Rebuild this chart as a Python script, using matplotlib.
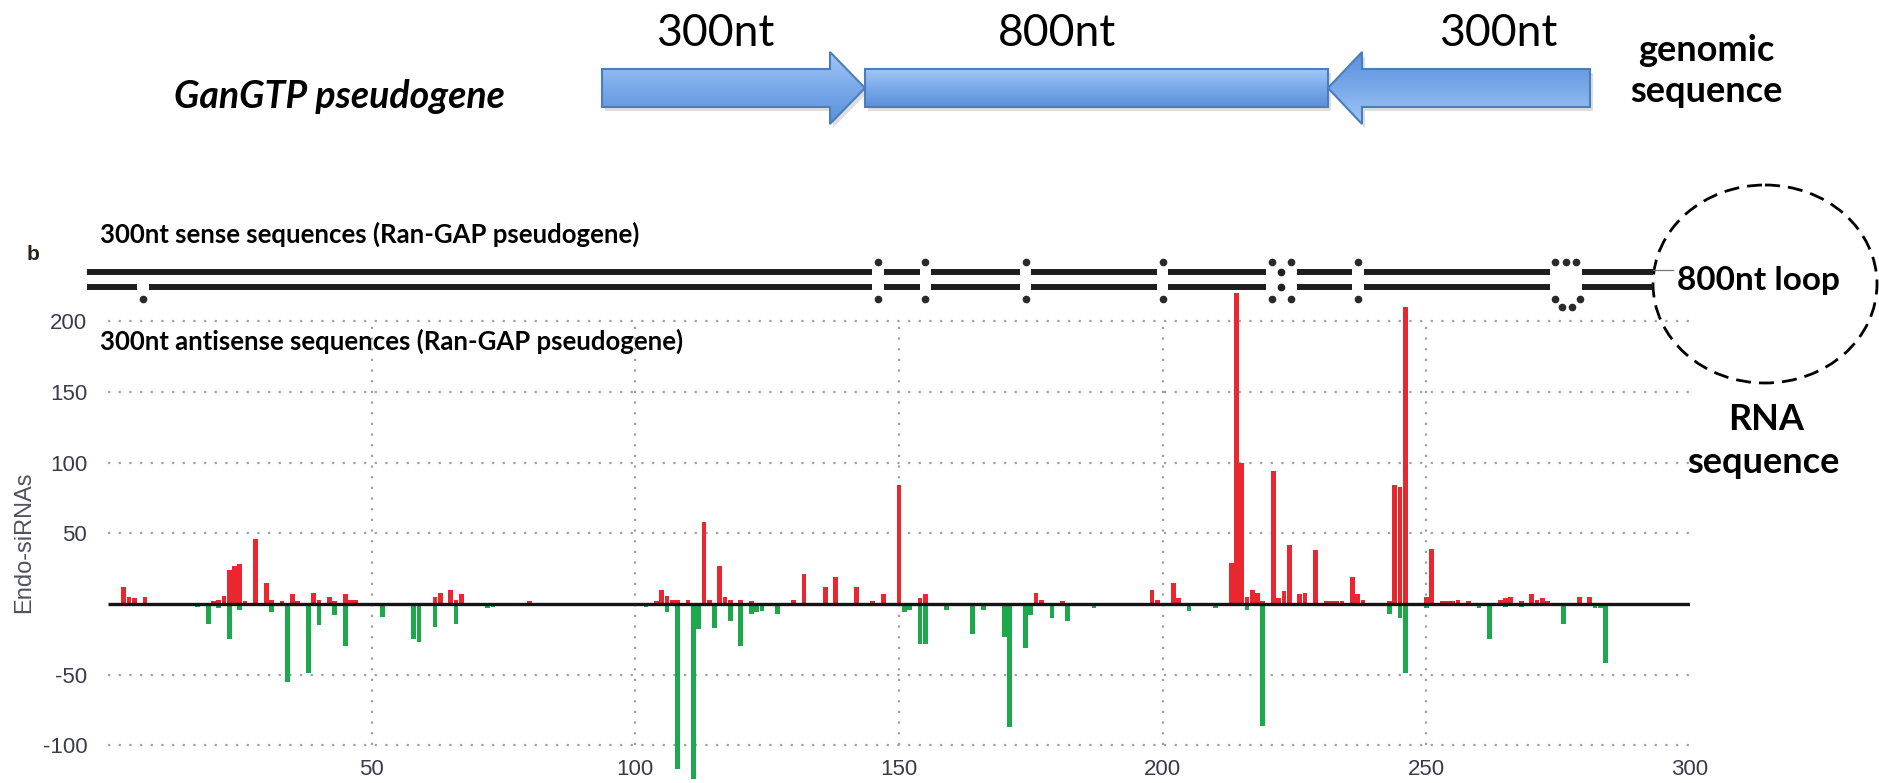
import numpy as np
import matplotlib.pyplot as plt
from matplotlib.patches import Polygon, Ellipse
from matplotlib.colors import LinearSegmentedColormap

# leituras de endo-siRNA por posição do grampo (fita senso em vermelho)
sense_pos = [3, 4, 5, 7, 20, 21, 22, 23, 24, 25, 26, 28, 30, 31, 33, 35, 36, 39, 40, 42, 43, 45, 46, 47,
             62, 63, 65, 66, 67, 80, 104, 105, 106, 107, 108, 110, 113, 114, 116, 117, 118, 120, 122,
             130, 132, 136, 138, 142, 145, 147, 150, 154, 155, 176, 177, 181, 198, 199, 202, 203,
             213, 214, 215, 216, 217, 218, 219, 221, 222, 223, 224, 226, 227, 229, 231, 232, 233, 234,
             236, 237, 238, 243, 244, 245, 246, 250, 251, 253, 254, 255, 256, 258, 264, 265, 266, 268,
             270, 271, 272, 273, 279, 281]
sense_val = [12, 5, 4, 5, 2, 3, 6, 24, 27, 28, 2, 46, 15, 3, 2, 7, 2, 8, 3, 5, 2, 7, 3, 3,
             5, 8, 10, 3, 7, 2, 2, 10, 6, 3, 3, 3, 58, 3, 27, 5, 3, 3, 2,
             3, 21, 12, 19, 12, 2, 7, 84, 4, 7, 8, 3, 2, 10, 3, 15, 4,
             29, 220, 100, 5, 10, 8, 2, 94, 4, 9, 42, 7, 8, 38, 2, 2, 2, 2,
             19, 7, 3, 2, 84, 83, 210, 5, 39, 2, 2, 2, 3, 2, 3, 4, 5, 2,
             7, 3, 4, 2, 5, 5]

# fita antissenso (verde, valores negativos)
anti_pos = [2, 17, 19, 21, 23, 25, 31, 34, 38, 40, 43, 45, 52, 58, 59, 62, 66, 72, 73,
            102, 106, 108, 111, 112, 115, 118, 120, 122, 123, 124, 127,
            151, 152, 154, 155, 159, 164, 166, 170, 171, 174, 175, 179, 182, 187,
            205, 210, 216, 219, 243, 245, 246, 250, 260, 262, 265, 268, 276, 282, 283, 284]
anti_val = [-1, -2, -14, -3, -25, -4, -6, -55, -49, -15, -8, -30, -9, -25, -27, -16, -14, -3, -2,
            -2, -6, -117, -124, -18, -17, -12, -30, -7, -6, -5, -7,
            -6, -4, -28, -28, -4, -21, -4, -23, -87, -31, -8, -10, -12, -3,
            -5, -3, -4, -86, -7, -10, -49, -3, -3, -25, -2, -2, -14, -3, -3, -42]

xticks = [50, 100, 150, 200, 250, 300]
yticks = [-100, -50, 50, 100, 150, 200]

# estrutura do dsRNA: pareamentos falhos e alças
mismatch_pos = [146, 155, 174, 200, 220.7, 224.3, 237]
bulge_bottom = [6.6]
loop_range = (273.5, 279.5)
strand_start, strand_end = -4, 293

W, H = 1879, 783
fig = plt.figure(figsize=(W / 100, H / 100), dpi=100)

# camada de desenho em pixels para o esquema do gene
ov = fig.add_axes([0, 0, 1, 1])
ov.axis('off')

azul = LinearSegmentedColormap.from_list('azul', ['#a3c7f7', '#7aa9ea', '#5a8fd9'])
grad = np.linspace(0, 1, 256).reshape(-1, 1)


def seta(pts, inverter=False):
    xs, ys = zip(*pts)
    sombra = Polygon([(x + 3, y + 4) for x, y in pts], closed=True, facecolor='#7f7f7f',
                     edgecolor='none', alpha=0.25, zorder=1)
    ov.add_patch(sombra)
    poly = Polygon(pts, closed=True, facecolor='none', edgecolor='#4a7ebb', lw=1.5, zorder=3)
    ov.add_patch(poly)
    im = ov.imshow(grad[::-1] if inverter else grad, cmap=azul, aspect='auto', zorder=2,
                   extent=(min(xs), max(xs), max(ys), min(ys)))
    im.set_clip_path(poly)


seta([(602, 69), (830, 69), (830, 52), (865, 88), (830, 124), (830, 107), (602, 107)])
seta([(865, 69), (1328, 69), (1328, 107), (865, 107)])
seta([(1590, 69), (1362, 69), (1362, 52), (1328, 88), (1362, 124), (1362, 107), (1590, 107)], inverter=True)

fonte = ['Lato', 'DejaVu Sans']
ov.text(715, 46, '300nt', fontsize=32, ha='center', va='baseline', family=fonte)
ov.text(1057, 46, '800nt', fontsize=32, ha='center', va='baseline', family=fonte)
ov.text(1498, 46, '300nt', fontsize=32, ha='center', va='baseline', family=fonte)
ov.text(1706, 61, 'genomic', fontsize=26, weight='bold', ha='center', va='baseline', family=fonte)
ov.text(1706, 102, 'sequence', fontsize=26, weight='bold', ha='center', va='baseline', family=fonte)
ov.text(339, 108, 'GanGTP pseudogene', fontsize=27, weight='bold', style='italic',
        ha='center', va='baseline', family=fonte)

ov.text(33, 255, 'b', fontsize=15, weight='bold', color='#2b2218', ha='center', va='center',
        family='Liberation Sans')
ov.text(100, 243, '300nt sense sequences (Ran-GAP pseudogene)', fontsize=18.5, weight='bold',
        ha='left', va='baseline', family=fonte)
ov.text(100, 350, '300nt antisense sequences (Ran-GAP pseudogene)', fontsize=18.5, weight='bold',
        ha='left', va='baseline', family=fonte, zorder=5)

ov.add_patch(Ellipse((1765, 284), 224, 198, fill=False, edgecolor='black', lw=2,
                     linestyle=(0, (5.4, 2.9))))
ov.text(1758, 290, '800nt loop', fontsize=24, weight='bold', ha='center', va='baseline', family=fonte)
ov.text(1766, 430, 'RNA', fontsize=26, weight='bold', ha='center', va='baseline', family=fonte)
ov.text(1763, 473, 'sequence', fontsize=26, weight='bold', ha='center', va='baseline', family=fonte)
ov.set_xlim(0, W)
ov.set_ylim(H, 0)

# gráfico de barras
ax = fig.add_axes([108 / W, (H - 780.8) / H, 1582 / W, 523.3 / H])
ax.patch.set_alpha(0)
ax.set_xlim(0, 300)
ax.set_ylim(-125, 245)
for s in ax.spines.values():
    s.set_visible(False)

grid_kw = dict(colors='#a0a0a0', linestyles=(0, (1, 3.8)), lw=1.6, zorder=1)
ax.hlines(yticks, 0, 300, **grid_kw)
ax.vlines(xticks[:-1], -100, 200, **grid_kw)

ax.bar(sense_pos, sense_val, width=0.9, color='#e8272e', lw=0, zorder=2)
ax.bar(anti_pos, anti_val, width=0.9, color='#1ea84c', lw=0, zorder=2)
ax.hlines(0, 0, 300, colors='#151515', lw=2.4, zorder=3)

ax.set_xticks(xticks)
ax.set_xticklabels([str(v) for v in xticks])
ax.set_yticks(yticks)
ax.set_yticklabels([str(v) for v in yticks])
ax.tick_params(axis='both', length=0, labelsize=16, labelcolor='#3b3b4d')
ax.tick_params(axis='x', pad=-15.5)
ax.tick_params(axis='y', pad=15)
for lab in ax.get_xticklabels() + ax.get_yticklabels():
    lab.set_family('Liberation Sans')

fig.text(24.5 / W, 1 - 542 / H, 'Endo-siRNAs', rotation=90, ha='center', va='center',
         fontsize=17, color='#505060', family='Liberation Sans')

# fitas do grampo: segmentos entre os pareamentos falhos
y_top, y_bot = 235, 224
gap = 1.1


def fita(y, falhas):
    cortes = sorted([(p - gap, p + gap) for p in falhas] + [loop_range])
    ini = strand_start
    for a, b in cortes:
        ax.plot([ini, a], [y, y], color='#1e1e1e', lw=4.3, solid_capstyle='butt', clip_on=False, zorder=4)
        ini = b
    ax.plot([ini, strand_end], [y, y], color='#1e1e1e', lw=4.3, solid_capstyle='butt', clip_on=False, zorder=4)


def fita_com_ponte(y, falhas):
    # 220.7 e 224.3 ficam separados por um único nucleotídeo
    fita(y, falhas)
    ax.plot([220.7 + gap, 224.3 - gap], [y, y], color='white', lw=6, clip_on=False, zorder=4.5)
    ax.plot([222.5], [y], 'o', color='#1e1e1e', ms=4.5, clip_on=False, zorder=5)


fita_com_ponte(y_top, mismatch_pos)
fita_com_ponte(y_bot, mismatch_pos + bulge_bottom)
ax.plot([strand_end, strand_end + 3.8], [236.5, 236.5], color='#777777', lw=0.9, clip_on=False)

dot_kw = dict(color='#2a2a2a', ms=4.5, ls='none', marker='o', clip_on=False, zorder=5)
ax.plot(mismatch_pos, [242] * len(mismatch_pos), **dot_kw)
ax.plot(mismatch_pos + bulge_bottom, [216] * (len(mismatch_pos) + 1), **dot_kw)
ax.plot([274.4, 276.4, 278.4], [242, 242, 242], **dot_kw)
ax.plot([274.4, 275.7, 277.7, 279.1], [216, 210, 210, 216], **dot_kw)

fig.savefig('out.png', dpi=100)
